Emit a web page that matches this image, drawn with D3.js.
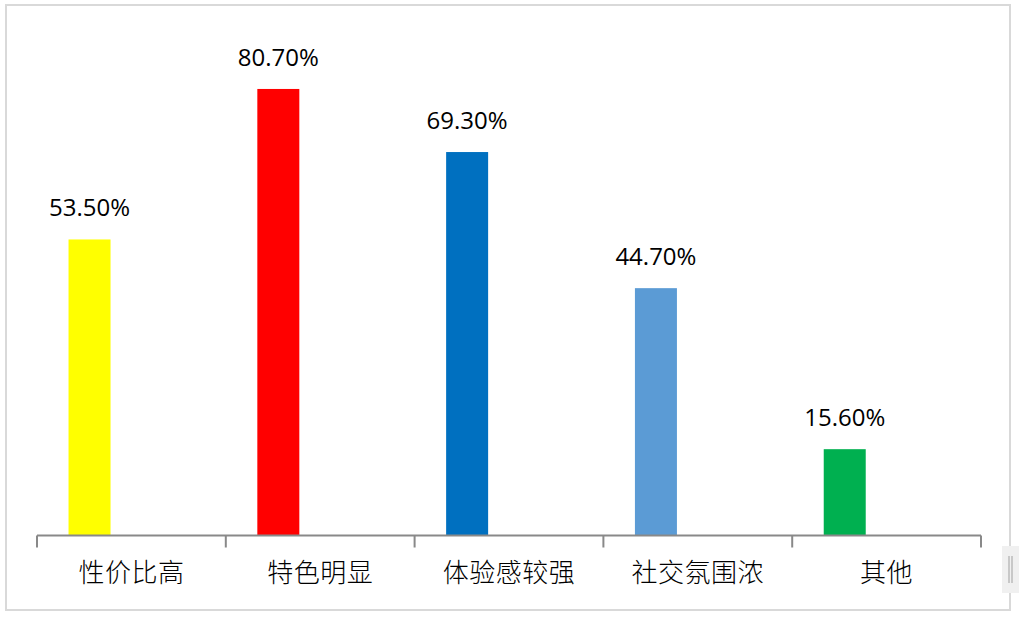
<!DOCTYPE html>
<html>
<head>
<meta charset="utf-8">
<script src="https://cdn.jsdelivr.net/npm/d3@7"></script>
<style>
  html, body { margin: 0; padding: 0; background: #fff; }
  svg { display: block; }
</style>
</head>
<body>
<div id="chart"></div>
<script>
// data
var categories = ['性价比高', '特色明显', '体验感较强', '社交氛围浓', '其他'];
var values = [53.5, 80.7, 69.3, 44.7, 15.6];
var colors = ['#FFFF00', '#FF0000', '#0070C0', '#5B9BD5', '#00B050'];

var width = 1019, height = 619;
var margin = {top: 37.5, right: 38, bottom: 83.5, left: 37};

var svg = d3.select('#chart')
  .append('svg')
  .attr('width', width)
  .attr('height', height);

// outer frame
svg.append('rect')
  .attr('x', 6).attr('y', 5)
  .attr('width', 1004).attr('height', 605)
  .attr('fill', 'none')
  .attr('stroke', '#d9d9d9')
  .attr('stroke-width', 2);

// little scroll handle at right
var handle = svg.append('g').attr('transform', 'translate(1002,546)');
handle.append('rect').attr('width', 17).attr('height', 47).attr('fill', '#f0f0f0');
handle.append('line').attr('x1', 7).attr('x2', 7).attr('y1', 10).attr('y2', 37).attr('stroke', '#a0a0a0').attr('stroke-width', 1);
handle.append('line').attr('x1', 10).attr('x2', 10).attr('y1', 10).attr('y2', 37).attr('stroke', '#a0a0a0').attr('stroke-width', 1);

var x = d3.scaleBand()
  .domain(categories)
  .range([margin.left, width - margin.right]);

var y = d3.scaleLinear()
  .domain([0, 90])
  .range([height - margin.bottom, margin.top]);

var barOffset = x.bandwidth() * 0.167;
var barWidth = 42;

var g = svg.append('g');

g.selectAll('rect.bar')
  .data(values)
  .enter().append('rect')
    .attr('class', 'bar')
    .attr('x', function(d, i) { return x(categories[i]) + barOffset; })
    .attr('y', function(d) { return y(d); })
    .attr('width', barWidth)
    .attr('height', function(d) { return y(0) - y(d); })
    .attr('fill', function(d, i) { return colors[i]; });

g.selectAll('text.val')
  .data(values)
  .enter().append('text')
    .attr('class', 'val')
    .attr('x', function(d, i) { return x(categories[i]) + barOffset + barWidth / 2; })
    .attr('y', function(d) { return y(d) - 23; })
    .attr('text-anchor', 'middle')
    .style('font-family', '"Open Sans", "Noto Sans", sans-serif')
    .style('font-size', '24px')
    .style('fill', '#000')
    .text(function(d) { return d.toFixed(2) + '%'; });

// x axis with ticks at band edges
var axis = svg.append('g')
  .attr('transform', 'translate(0,' + y(0) + ')');

axis.append('line')
  .attr('x1', margin.left).attr('x2', width - margin.right)
  .attr('stroke', '#898989').attr('stroke-width', 2);

var edges = categories.map(function(c) { return x(c); }).concat([x.range()[1]]);
axis.selectAll('line.tick')
  .data(edges)
  .enter().append('line')
    .attr('class', 'tick')
    .attr('x1', function(d) { return d; })
    .attr('x2', function(d) { return d; })
    .attr('y1', 0).attr('y2', 12)
    .attr('stroke', '#898989').attr('stroke-width', 2);

axis.selectAll('text.cat')
  .data(categories)
  .enter().append('text')
    .attr('class', 'cat')
    .attr('x', function(d) { return x(d) + x.bandwidth() / 2; })
    .attr('y', 46)
    .attr('text-anchor', 'middle')
    .style('font-family', '"Noto Sans CJK SC", sans-serif')
    .style('font-size', '26px')
    .style('font-weight', 300)
    .style('letter-spacing', '0.5px')
    .style('fill', '#000')
    .text(function(d) { return d; });
</script>
</body>
</html>
